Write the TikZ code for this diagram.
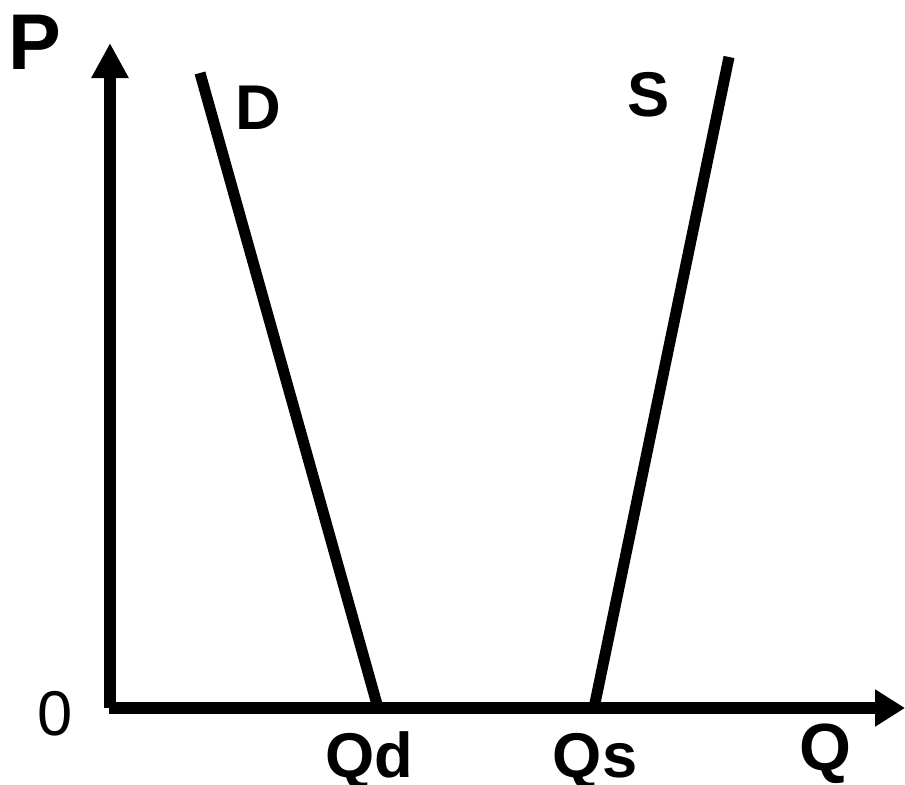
\documentclass[tikz,border=0pt]{standalone}
\usepackage{fontspec}
\setmainfont{Liberation Sans}
\usetikzlibrary{arrows.meta}

\begin{document}
\begin{tikzpicture}[x=0.02cm,y=-0.02cm,black]

\useasboundingbox (0,0) rectangle (905,784);

% Axes
\coordinate (origin) at (110,708);
\coordinate (ptop) at (110,43);
\coordinate (qleft) at (109,708);
\coordinate (qend) at (905,708);
\draw[line width=6.8pt,-{Triangle[length=20pt,width=20pt]}](origin) -- (ptop);
\draw[line width=6.8pt,-{Triangle[length=17pt,width=20pt]}](qleft) -- (qend);

% Demand
\coordinate (dtop) at (200,73);
\coordinate (dbot) at (378,708);
\draw[line width=6.3pt](dtop) -- (dbot);

% Supply
\coordinate (stop) at (729,57);
\coordinate (sbot) at (594,708);
\draw[line width=6.3pt](stop) -- (sbot);

% Labels
\node[anchor=base,inner sep=0pt,font=\fontsize{45}{45}\selectfont\bfseries] (plabel) at (35,70) {P};
\node[anchor=base,inner sep=0pt,font=\fontsize{38}{38}\selectfont\bfseries] (qlabel) at (825,770) {Q};
\node[anchor=base,inner sep=0pt,font=\fontsize{36}{36}\selectfont] (zero) at (55,735) {0};
\node[anchor=base,inner sep=0pt,font=\fontsize{36}{36}\selectfont\bfseries] (dlabel) at (258,129) {D};
\node[anchor=base,inner sep=0pt,font=\fontsize{36}{36}\selectfont\bfseries] (slabel) at (649,116) {S};
\node[anchor=base,inner sep=0pt,font=\fontsize{36}{36}\selectfont\bfseries] (qdlabel) at (369,777) {Qd};
\node[anchor=base,inner sep=0pt,font=\fontsize{36}{36}\selectfont\bfseries] (qslabel) at (595,777) {Qs};

\end{tikzpicture}
\end{document}
